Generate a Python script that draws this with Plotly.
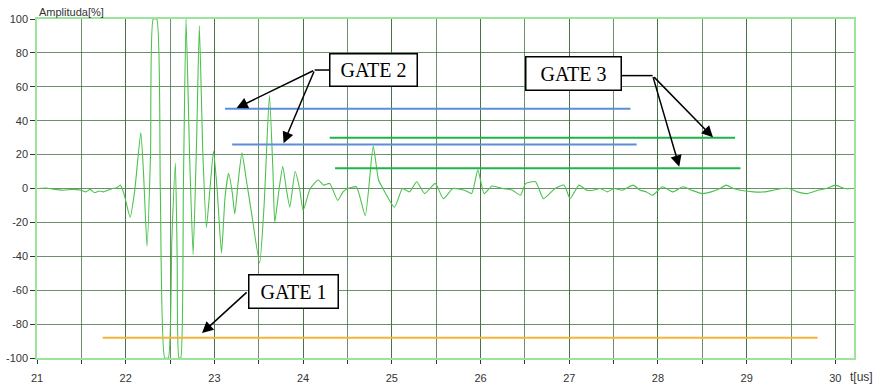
import plotly.graph_objects as go

# ---- waveform (time in us, amplitude in %) ----
t = [21.0, 21.1, 21.2, 21.3, 21.4, 21.5, 21.55, 21.6, 21.65, 21.7, 21.75, 21.8, 21.85, 21.9,
     21.94, 21.98, 22.05, 22.1, 22.17, 22.2, 22.24, 22.28, 22.31, 22.35, 22.39, 22.44, 22.48,
     22.52, 22.56, 22.58, 22.6, 22.62, 22.65, 22.68, 22.72, 22.76, 22.8, 22.83, 22.87, 22.91,
     22.95, 22.99, 23.03, 23.08, 23.12, 23.16, 23.2, 23.23, 23.27, 23.31, 23.36, 23.42, 23.51,
     23.56, 23.62, 23.66, 23.68, 23.73, 23.77, 23.81, 23.85, 23.91, 23.96, 24.0, 24.08, 24.17,
     24.23, 24.3, 24.39, 24.45, 24.5, 24.6, 24.7, 24.79, 24.85, 24.9, 25.03, 25.12, 25.2, 25.28,
     25.37, 25.49, 25.58, 25.69, 25.82, 25.9, 25.97, 26.04, 26.13, 26.25, 26.36, 26.45, 26.51,
     26.62, 26.71, 26.84, 26.94, 27.01, 27.06, 27.11, 27.2, 27.27, 27.35, 27.43, 27.5, 27.6,
     27.72, 27.8, 27.87, 27.94, 28.05, 28.17, 28.28, 28.38, 28.5, 28.6, 28.7, 28.77, 28.85,
     28.93, 29.08, 29.2, 29.3, 29.4, 29.48, 29.57, 29.68, 29.8, 29.9, 30.0, 30.1, 30.2]
amplitude = [0, 0.3, -0.5, -1, -0.5, -1, -2, -0.5, -2.5, -1.5, -2, -1, 0, 0.5,
             2, -3, -17, -2, 33, 10, -34, 20, 100, 100, 0, -100, -100,
             -30, 15, -40, -100, -100, 0, 100, 20, -39, 30, 96, 20, -23,
             0, 22, 0, -38, -5, 9, -2, -15, 5, 21, 5, -15, -44,
             -10, 55, 10, -20, 0, 13, 0, -11, 10, 0, -13, 0, 5,
             2, 3, -7, -2, 0, 1, -16, 25, 5, 0, -11, 0, -2, 4,
             -3, 3, -6, 0, -1, -3, 11, -3, 1.5, 0, -1, -4, 3,
             4, -6, 0, 2, -6, -2, 2, -1, -1, 0, -2, 0, -1,
             2, -1, -2, -4, 1, -2, 1, -1, -3, -2, 0, 2, 0,
             -1, -2, -2, -1, 0, 0, -2, -3, -1, 0, 2, 0, 0]

# ---- gates: [start, end] time and level ----
gate1_t = [21.74, 29.80]; gate1_level = -88
gate2a_t = [23.12, 27.69]; gate2a_level = 47
gate2b_t = [23.20, 27.76]; gate2b_level = 26
gate3a_t = [24.30, 28.87]; gate3a_level = 30
gate3b_t = [24.36, 28.93]; gate3b_level = 12

x_ticks = [21, 22, 23, 24, 25, 26, 27, 28, 29, 30]
y_ticks = [100, 80, 60, 40, 20, 0, -20, -40, -60, -80, -100]

GRID = "rgba(60,105,60,0.75)"
BORDER = "#9be49b"
SIG = "#4cc24c"
TXT = "#333333"

fig = go.Figure()
fig.add_trace(go.Scatter(x=t, y=amplitude, mode="lines",
                         line=dict(color=SIG, width=1.1, shape="spline", smoothing=0.5),
                         hoverinfo="skip"))

for gx, gl, col in [(gate1_t, gate1_level, "#f4b436"),
                    (gate2a_t, gate2a_level, "#5b8ed6"),
                    (gate2b_t, gate2b_level, "#5b8ed6"),
                    (gate3a_t, gate3a_level, "#1db44a"),
                    (gate3b_t, gate3b_level, "#1db44a")]:
    fig.add_trace(go.Scatter(x=gx, y=[gl, gl], mode="lines",
                             line=dict(color=col, width=2), hoverinfo="skip"))

serif = dict(family="Liberation Serif, Times New Roman, serif", size=20, color="black")

def box(text, x, y, w, h):
    fig.add_annotation(x=x, y=y, xref="x", yref="y", text=text, showarrow=False,
                       font=serif, bgcolor="white", bordercolor="black", borderwidth=1.5,
                       borderpad=1, width=w, height=h)

def arrow(tip, tail):
    fig.add_annotation(x=tip[0], y=tip[1], ax=tail[0], ay=tail[1], xref="x", yref="y",
                       axref="x", ayref="y", text="", showarrow=True, arrowhead=2,
                       arrowsize=1.5, arrowwidth=1.5, arrowcolor="black", standoff=0)

# GATE 2
fig.add_shape(type="line", x0=24.13, y0=69.9, x1=24.30, y1=69.9, line=dict(color="black", width=1.5))
arrow((23.25, 47.5), (24.13, 69.9))
arrow((23.78, 26.7), (24.13, 69.9))
box("GATE 2", 24.79, 70.1, 84, 29)
# GATE 3
fig.add_shape(type="line", x0=27.59, y0=66.6, x1=27.94, y1=66.6, line=dict(color="black", width=1.5))
arrow((28.62, 30.2), (27.94, 66.6))
arrow((28.24, 12.9), (27.94, 66.6))
box("GATE 3", 27.05, 67.6, 92, 30)
# GATE 1
arrow((22.86, -85.3), (23.38, -60.5))
box("GATE 1", 23.89, -60.8, 86, 30)

sans = dict(family="Liberation Sans, Arial, sans-serif", size=11, color=TXT)
fig.add_annotation(x=0, y=1, xref="paper", yref="paper", xanchor="left", yanchor="bottom",
                   text="Amplituda[%]", showarrow=False, font=sans, yshift=-1)
fig.add_annotation(x=1, y=0, xref="paper", yref="paper", xanchor="left", yanchor="top",
                   text="t[us]", showarrow=False,
                   font=dict(family="Liberation Sans, Arial, sans-serif", size=12, color=TXT),
                   xshift=-6, yshift=-10)

fig.update_layout(
    width=883, height=386,
    margin=dict(l=37, r=29, t=19, b=28),
    paper_bgcolor="white", plot_bgcolor="white",
    showlegend=False,
    xaxis=dict(range=[21, 30.21], tickvals=x_ticks, ticktext=[str(v) for v in x_ticks],
               ticks="outside", ticklen=4, tickcolor=TXT, tickfont=sans,
               ticklabelstandoff=5, automargin=False,
               showgrid=True, gridcolor=GRID, gridwidth=1.4,
               minor=dict(dtick=0.5, tick0=21, ticks="outside", ticklen=4, tickcolor=TXT,
                          showgrid=True, gridcolor=GRID, gridwidth=1.4),
               showline=True, linecolor=BORDER, linewidth=1.5, mirror=True, zeroline=False),
    yaxis=dict(range=[-100, 100], tickvals=y_ticks, ticktext=[str(v) for v in y_ticks],
               ticks="outside", ticklen=5, tickcolor=TXT, tickfont=sans, automargin=False,
               showgrid=True, gridcolor=GRID, gridwidth=1.4,
               showline=True, linecolor=BORDER, linewidth=1.5, mirror=True, zeroline=False),
)

fig.write_html("out.html", config={"displayModeBar": False},
               post_script="document.body.style.margin='0';")
